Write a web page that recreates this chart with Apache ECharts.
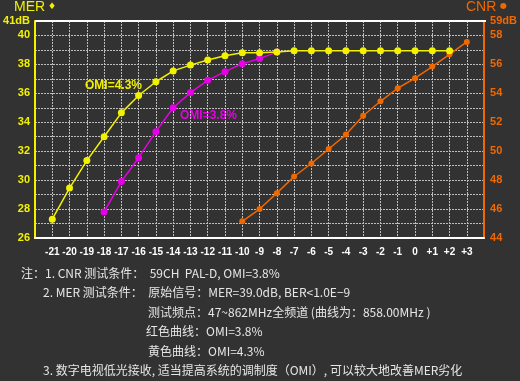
<!DOCTYPE html>
<html><head><meta charset="utf-8">
<script src="https://cdn.jsdelivr.net/npm/echarts@6/dist/echarts.min.js"></script>
<style>html,body{margin:0;padding:0;background:#323232;}#c{width:520px;height:381px;}</style>
</head><body><div id="c"></div>
<script>
const xTicks = [-21,-20,-19,-18,-17,-16,-15,-14,-13,-12,-11,-10,-9,-8,-7,-6,-5,-4,-3,-2,-1,0,1,2,3];
const merOmi43X = [-21,-20,-19,-18,-17,-16,-15,-14,-13,-12,-11,-10,-9,-8,-7,-6,-5,-4,-3,-2,-1,0,1,2];
const merOmi43 = [27.3,29.45,31.35,33.0,34.65,35.85,36.8,37.55,37.95,38.3,38.6,38.8,38.8,38.85,38.95,38.95,38.95,38.95,38.95,38.95,38.95,38.95,38.95,38.95];
const merOmi38X = [-18,-17,-16,-15,-14,-13,-12,-11,-10,-9,-8];
const merOmi38 = [27.8,29.9,31.55,33.35,35.0,36.05,36.9,37.5,38.05,38.4,38.85];
const cnrX = [-10,-9,-8,-7,-6,-5,-4,-3,-2,-1,0,1,2,3];
const cnr = [45.15,46.0,47.1,48.25,49.15,50.15,51.15,52.45,53.45,54.35,55.05,55.85,56.7,57.55];
const notes = [
  '注：1. CNR 测试条件：  59CH  PAL-D, OMI=3.8%',
  '2. MER 测试条件：  原始信号：MER=39.0dB, BER<1.0E−9',
  '测试频点：47~862MHz全频道 (曲线为：858.00MHz )',
  '红色曲线：OMI=3.8%',
  '黄色曲线：OMI=4.3%',
  '3. 数字电视低光接收, 适当提高系统的调制度（OMI）, 可以较大地改善MER劣化'
];

const YEL = '#f2f200', MAG = '#e600e6', ORG = '#f06800';
const FONT = 'Liberation Sans, Arial, sans-serif';
const CJK = '"Noto Sans CJK SC", "Liberation Sans", sans-serif';
const pair = (xs, ys) => xs.map((x, i) => [x, ys[i]]);
const gridLine = {show: true, lineStyle: {color: '#bdbdbd', width: 1, type: [2, 1]}};

const chart = echarts.init(document.getElementById('c'));
chart.setOption({
  backgroundColor: '#323232',
  animation: false,
  grid: {left: 35, right: 34, top: 21, bottom: 143},
  xAxis: {
    type: 'value', min: -22, max: 4, interval: 1,
    axisLine: {show: true, onZero: false, lineStyle: {color: '#ffffff', width: 2}},
    axisTick: {show: false},
    splitLine: gridLine,
    axisLabel: {
      color: '#ffffff', fontWeight: 'bold', fontSize: 10, fontFamily: FONT, margin: 9,
      showMinLabel: false, showMaxLabel: false,
      formatter: v => (xTicks.indexOf(v) < 0 ? '' : (v > 0 ? '+' + v : String(v)))
    }
  },
  yAxis: [
    {
      type: 'value', min: 26, max: 41, interval: 1, position: 'left',
      axisLine: {show: true, onZero: false, lineStyle: {color: YEL, width: 2}},
      axisTick: {show: false},
      splitLine: gridLine,
      axisLabel: {
        color: YEL, fontWeight: 'bold', fontSize: 11, fontFamily: FONT, margin: 5,
        formatter: v => v === 41 ? '41dB' : (v % 2 === 0 ? String(v) : '')
      }
    },
    {
      type: 'value', min: 44, max: 59, interval: 1, position: 'right',
      axisLine: {show: true, onZero: false, lineStyle: {color: ORG, width: 2}},
      axisTick: {show: false},
      splitLine: {show: false},
      axisLabel: {
        color: ORG, fontWeight: 'bold', fontSize: 11, fontFamily: FONT, margin: 6,
        formatter: v => v === 59 ? '59dB' : (v % 2 === 0 ? String(v) : '')
      }
    }
  ],
  series: [
    {type: 'line', yAxisIndex: 1, data: pair(cnrX, cnr), symbol: 'circle', symbolSize: 6,
     lineStyle: {color: ORG, width: 1.5}, itemStyle: {color: ORG}, z: 3},
    {type: 'line', yAxisIndex: 0, data: pair(merOmi38X, merOmi38), symbol: 'circle', symbolSize: 7,
     lineStyle: {color: MAG, width: 1.5}, itemStyle: {color: MAG}, z: 4},
    {type: 'line', yAxisIndex: 0, data: pair(merOmi43X, merOmi43), symbol: 'circle', symbolSize: 7,
     lineStyle: {color: YEL, width: 1.5}, itemStyle: {color: YEL}, z: 5}
  ],
  graphic: [
    {type: 'line', shape: {x1: 35, y1: 21, x2: 486, y2: 21}, style: {stroke: '#ffffff', lineWidth: 2}, z: 10},
    {type: 'text', left: 14, top: 0, style: {text: 'MER', fill: YEL, font: '14px ' + FONT}},
    {type: 'text', left: 48, top: 2, style: {text: '♦', fill: YEL, font: '9px DejaVu Sans'}},
    {type: 'text', left: 466, top: 0, style: {text: 'CNR', fill: ORG, font: '14px ' + FONT}},
    {type: 'text', left: 500, top: 2, style: {text: '●', fill: ORG, font: '8px DejaVu Sans'}},
    {type: 'text', left: 85, top: 80, style: {text: 'OMI=4.3%', fill: YEL, font: 'bold 12px ' + FONT}},
    {type: 'text', left: 180, top: 110, style: {text: 'OMI=3.8%', fill: MAG, font: 'bold 12px ' + FONT}},
    {type: 'text', left: 21, top: 267, style: {text: notes[0], fill: '#e6e6e6', font: '12px ' + CJK}},
    {type: 'text', left: 43, top: 286, style: {text: notes[1], fill: '#e6e6e6', font: '12px ' + CJK}},
    {type: 'text', left: 148, top: 306, style: {text: notes[2], fill: '#e6e6e6', font: '12px ' + CJK}},
    {type: 'text', left: 146, top: 325, style: {text: notes[3], fill: '#e6e6e6', font: '12px ' + CJK}},
    {type: 'text', left: 148, top: 345, style: {text: notes[4], fill: '#e6e6e6', font: '12px ' + CJK}},
    {type: 'text', left: 43, top: 364, style: {text: notes[5], fill: '#e6e6e6', font: '12px ' + CJK}}
  ]
});
</script></body></html>
